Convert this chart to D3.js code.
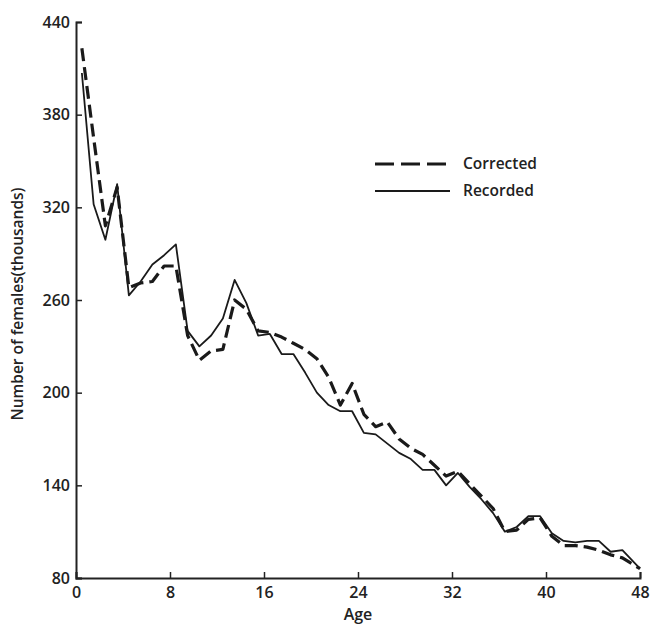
<!DOCTYPE html>
<html>
<head>
<meta charset="utf-8">
<script src="https://cdn.jsdelivr.net/npm/d3@7"></script>
<style>
  body { margin: 0; background: #fff; }
  text { font-family: "Open Sans", sans-serif; fill: #222; }
</style>
</head>
<body>
<svg width="650" height="624"></svg>
<script>
// ages (mid-year points)
var ages = [0.5, 1.5, 2.5, 3.5, 4.5, 5.5, 6.5, 7.5, 8.5, 9.5,
            10.5, 11.5, 12.5, 13.5, 14.5, 15.5, 16.5, 17.5, 18.5, 19.5,
            20.5, 21.5, 22.5, 23.5, 24.5, 25.5, 26.5, 27.5, 28.5, 29.5,
            30.5, 31.5, 32.5, 33.5, 34.5, 35.5, 36.5, 37.5, 38.5, 39.5,
            40.5, 41.5, 42.5, 43.5, 44.5, 45.5, 46.5, 48];
var corrected = [423, 365, 308, 333, 268, 271, 272, 282, 282, 237,
                 221, 227, 228, 260, 254, 240, 239, 236, 232, 228,
                 222, 210, 192, 206, 186, 178, 181, 170, 164, 160,
                 153, 146, 149, 141, 133, 125, 110, 111, 118, 119,
                 107, 101, 101, 100, 98, 95, 93, 86];
var recorded = [407, 322, 299, 335, 263, 272, 283, 289, 296, 240,
                230, 237, 248, 273, 258, 237, 238, 225, 225, 213,
                200, 192, 188, 188, 174, 173, 167, 161, 157, 150,
                150, 140, 148, 139, 131, 122, 110, 113, 120, 120,
                109, 104, 103, 104, 104, 97, 98, 86];
var xTicks = [0, 8, 16, 24, 32, 40, 48];
var yTicks = [80, 140, 200, 260, 320, 380, 440];
var seriesNames = ["Corrected", "Recorded"];

var svg = d3.select("svg"),
    margin = {top: 22, right: 10, bottom: 46, left: 76},
    width = +svg.attr("width") - margin.left - margin.right,
    height = +svg.attr("height") - margin.top - margin.bottom;

var g = svg.append("g")
    .attr("transform", "translate(" + margin.left + "," + margin.top + ")");

var x = d3.scaleLinear().domain([0, 48]).range([0, width]),
    y = d3.scaleLinear().domain([80, 440]).range([height, 0]);

var line = d3.line()
    .x(function(d) { return x(d.age); })
    .y(function(d) { return y(d.v); });

var recData = ages.map(function(a, i) { return {age: a, v: recorded[i]}; });
var corData = ages.map(function(a, i) { return {age: a, v: corrected[i]}; });

// axes: inward ticks
var xAxis = d3.axisBottom(x).tickValues(xTicks).tickSize(-6).tickPadding(9);
var yAxis = d3.axisLeft(y).tickValues(yTicks).tickSize(-6).tickPadding(6);

var xg = g.append("g")
    .attr("transform", "translate(0," + height + ")")
    .call(xAxis);
var yg = g.append("g").call(yAxis);

[xg, yg].forEach(function(a) {
  a.select(".domain").attr("stroke", "#222").attr("stroke-width", 2);
  a.selectAll(".tick line").attr("stroke", "#222").attr("stroke-width", 1.5);
  a.selectAll(".tick text")
    .style("font-family", "'Open Sans', sans-serif")
    .style("font-size", "16px")
    .style("font-weight", "600")
    .attr("fill", "#222");
});

g.append("path")
    .datum(recData)
    .attr("fill", "none")
    .attr("stroke", "#1a1a1a")
    .attr("stroke-width", 1.8)
    .attr("stroke-linejoin", "round")
    .attr("d", line);

g.append("path")
    .datum(corData)
    .attr("fill", "none")
    .attr("stroke", "#1a1a1a")
    .attr("stroke-width", 3.2)
    .attr("stroke-dasharray", "13,6")
    .attr("stroke-linejoin", "round")
    .attr("d", line);

// legend
var legend = svg.append("g").attr("transform", "translate(375,164)");
seriesNames.forEach(function(name, i) {
  var row = legend.append("g").attr("transform", "translate(0," + (i * 27) + ")");
  row.append("line")
      .attr("x1", 0).attr("x2", 75)
      .attr("stroke", "#1a1a1a")
      .attr("stroke-width", i === 0 ? 3.2 : 1.8)
      .attr("stroke-dasharray", i === 0 ? "19,7" : null);
  row.append("text")
      .attr("x", 88).attr("dy", "0.35em")
      .style("font-size", "15.5px")
      .style("font-weight", "600")
      .text(name);
});

// axis titles
svg.append("text")
    .attr("x", margin.left + x(24)).attr("y", 620)
    .attr("text-anchor", "middle")
    .style("font-size", "16px")
    .style("font-weight", "600")
    .text("Age");

svg.append("text")
    .attr("transform", "translate(23," + (margin.top + height / 2 + 4) + ") rotate(-90)")
    .attr("text-anchor", "middle")
    .style("font-size", "15.5px")
    .style("font-weight", "600")
    .text("Number of females(thousands)");
</script>
</body>
</html>
